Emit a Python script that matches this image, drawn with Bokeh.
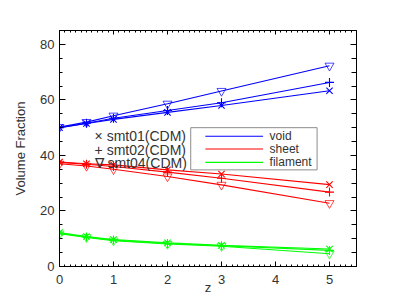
from bokeh.plotting import figure
from bokeh.models import (LinearAxis, SingleIntervalTicker, CustomJSTickFormatter,
                          ColumnDataSource)
from bokeh.embed import file_html
from bokeh.resources import INLINE
from bokeh.core.properties import value

# ---------------- data ----------------
z = [0, 0.5, 1, 2, 3, 5]

void_smt01 = [50.0, 51.5, 53.0, 55.5, 58.0, 63.3]
void_smt02 = [50.0, 51.6, 53.4, 56.2, 59.0, 66.3]
void_smt04 = [50.2, 52.0, 54.3, 58.6, 63.2, 72.3]

sheet_smt01 = [37.6, 37.0, 36.6, 34.8, 33.3, 29.5]
sheet_smt02 = [37.5, 36.8, 36.0, 34.0, 31.8, 26.8]
sheet_smt04 = [37.0, 36.2, 35.0, 32.4, 29.4, 22.8]

filament_smt01 = [12.2, 10.8, 9.7, 8.5, 7.6, 6.3]
filament_smt02 = [12.0, 10.6, 9.5, 8.3, 7.5, 5.8]
filament_smt04 = [11.8, 10.5, 9.3, 8.1, 7.3, 4.6]

run_labels = ["× smt01(CDM)", "+ smt02(CDM)", "∇ smt04(CDM)"]
struct_labels = ["void", "sheet", "filament"]
struct_colors = ["#0000ff", "#ff0000", "#00ff00"]

FONT = "Liberation Sans"
TXT = "#333333"

p = figure(width=415, height=297, x_range=(0, 5.5), y_range=(0, 85),
           output_backend="svg", toolbar_location=None,
           min_border_left=59, min_border_right=59, min_border_top=30,
           min_border_bottom=31)
p.xgrid.visible = False
p.ygrid.visible = False
p.outline_line_color = None
p.background_fill_color = "white"
p.border_fill_color = "white"

xt = SingleIntervalTicker(interval=1, num_minor_ticks=10)
yt = SingleIntervalTicker(interval=20, num_minor_ticks=4)

# bottom axis
ax = p.xaxis[0]
ax.ticker = xt
ax.major_tick_in = 5
ax.major_tick_out = 0
ax.minor_tick_in = 2
ax.minor_tick_out = 0
ax.major_label_standoff = 8
ax.major_label_text_font = FONT
ax.major_label_text_font_size = "13px"
ax.major_label_text_color = TXT
ax.axis_label = "z"
ax.axis_label_text_font = FONT
ax.axis_label_text_font_size = "13px"
ax.axis_label_text_font_style = "normal"
ax.axis_label_text_color = TXT
ax.axis_label_standoff = -7
ax.axis_line_color = "black"
ax.major_tick_line_color = "black"
ax.minor_tick_line_color = "black"

# left axis
ay = p.yaxis[0]
ay.ticker = yt
ay.major_tick_in = 6
ay.major_tick_out = 0
ay.minor_tick_in = 3
ay.minor_tick_out = 0
ay.major_label_standoff = 5
ay.major_label_text_font = FONT
ay.major_label_text_font_size = "13px"
ay.major_label_text_color = TXT
ay.axis_label = "Volume Fraction"
ay.axis_label_text_font = FONT
ay.axis_label_text_font_size = "13px"
ay.axis_label_text_font_style = "normal"
ay.axis_label_text_color = TXT
ay.axis_label_standoff = 9
ay.axis_line_color = "black"

blank = CustomJSTickFormatter(code="return ''")
top = LinearAxis(ticker=SingleIntervalTicker(interval=1, num_minor_ticks=10),
                 formatter=blank, major_tick_in=4, major_tick_out=0,
                 minor_tick_in=2, minor_tick_out=0, major_label_standoff=0,
                 major_label_text_font_size="1px", axis_line_color="black")
right = LinearAxis(ticker=SingleIntervalTicker(interval=20, num_minor_ticks=4),
                   formatter=blank, major_tick_in=6, major_tick_out=0,
                   minor_tick_in=5, minor_tick_out=0, major_label_standoff=0,
                   major_label_text_font_size="1px", axis_line_color="black")
p.add_layout(top, "above")
p.add_layout(right, "right")

# ---------------- series ----------------
groups = [
    ([void_smt01, void_smt02, void_smt04], struct_colors[0]),
    ([sheet_smt01, sheet_smt02, sheet_smt04], struct_colors[1]),
    ([filament_smt01, filament_smt02, filament_smt04], struct_colors[2]),
]
markers = ["x", "cross", "inverted_triangle"]
for series, col in groups:
    for vals, mk in zip(series, markers):
        p.line(z, vals, line_color=col, line_width=1.1)
        if mk == "inverted_triangle":
            p.scatter(z, vals, marker=mk, size=9, fill_color=None,
                      line_color=col, line_width=0.9, line_alpha=0.8)
        else:
            p.scatter(z, vals, marker=mk, size=9, line_color=col,
                      line_width=1.1)

# ---------------- run labels (left legend) ----------------
run_src = ColumnDataSource(dict(x=[0.65, 0.65, 0.65], y=[47.0, 42.1, 37.3],
                                t=run_labels))
p.text(x="x", y="y", text="t", source=run_src, text_font=value(FONT),
       text_font_size="14px", text_color=TXT, text_baseline="middle",
       text_align="left")

# ---------------- structure legend box ----------------
p.quad(left=[2.43], right=[4.77], bottom=[34.8], top=[50.0],
       fill_color="white", line_color="#8c8c8c", line_width=1)
leg_y = [46.9, 42.3, 37.5]
for yy, col in zip(leg_y, struct_colors):
    p.line([2.70, 3.77], [yy, yy], line_color=col, line_width=1.1)
leg_src = ColumnDataSource(dict(x=[3.89] * 3, y=leg_y, t=struct_labels))
p.text(x="x", y="y", text="t", source=leg_src, text_font=value(FONT),
       text_font_size="12px", text_color=TXT, text_baseline="middle",
       text_align="left")

open("out.html", "w").write(file_html(p, INLINE))
